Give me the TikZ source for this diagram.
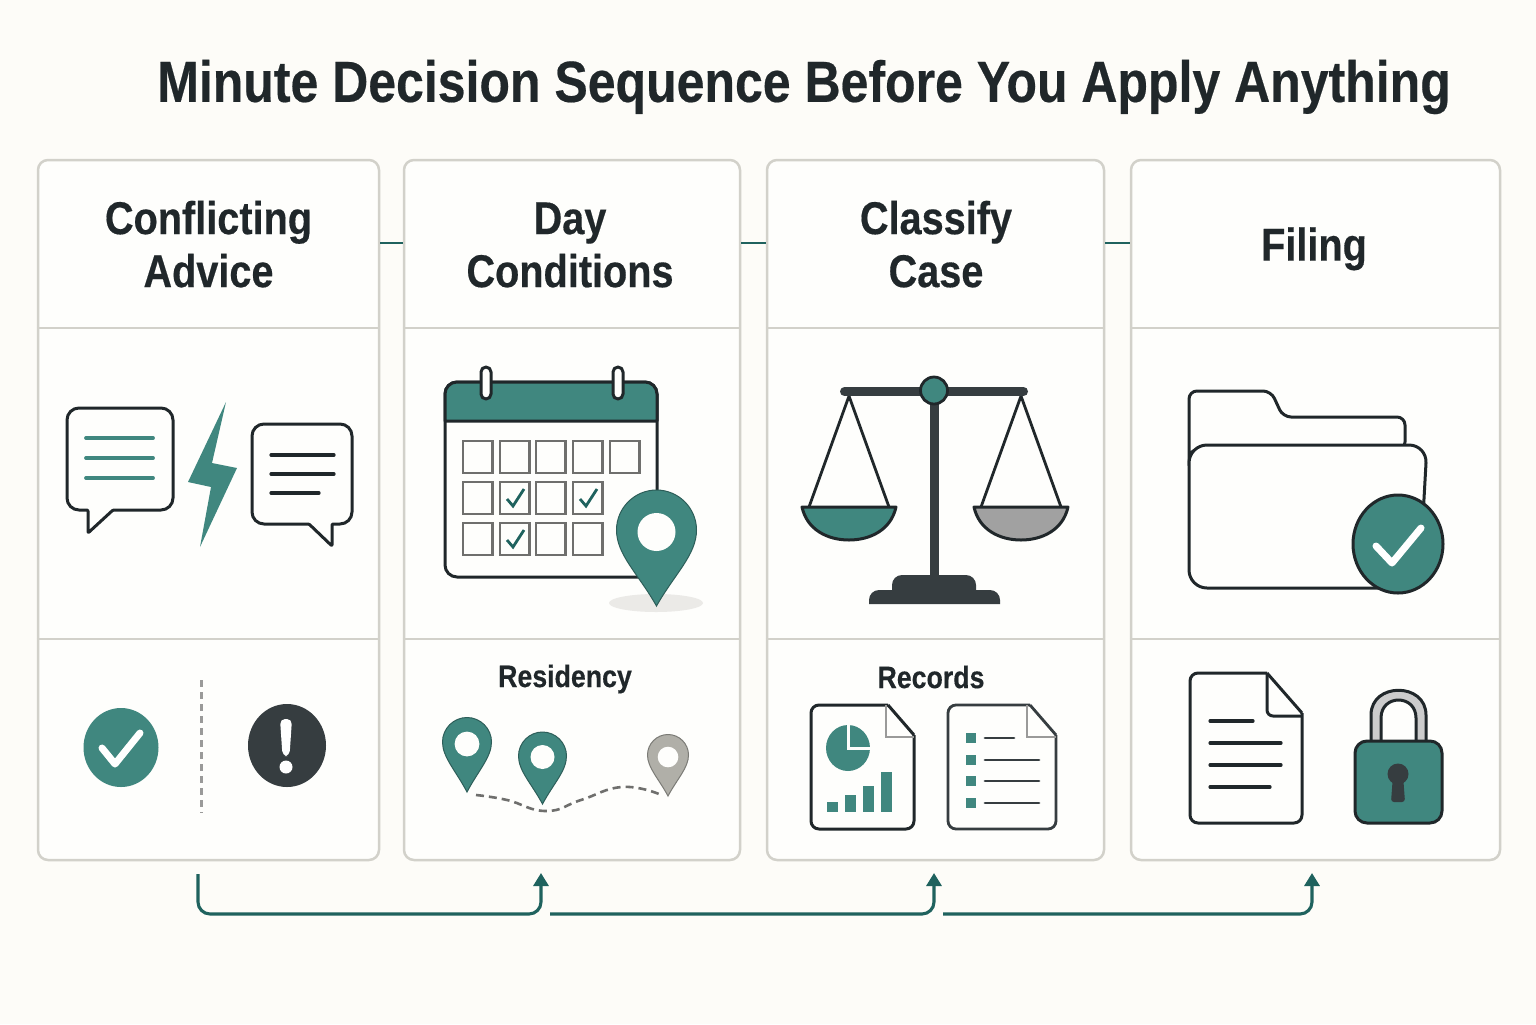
\documentclass[tikz,border=0pt]{standalone}
\usepackage{fontspec}
\setmainfont{Liberation Sans}[FakeStretch=0.862,BoldFeatures={FakeBold=0.35},Ligatures=NoCommon]
\usetikzlibrary{arrows.meta}
\definecolor{pagebg}{HTML}{FDFCF8}
\definecolor{panelbg}{HTML}{FEFEFC}
\definecolor{panelline}{HTML}{D2D1CA}
\definecolor{teal}{HTML}{40877F}
\definecolor{flowteal}{HTML}{1F625E}
\definecolor{ink}{HTML}{20272A}
\definecolor{slate}{HTML}{363D40}
\definecolor{cellgray}{HTML}{6F6F6D}
\definecolor{pingray}{HTML}{B0AFA8}
\tikzset{
  panel/.style={draw=panelline, fill=panelbg, line width=1.25pt, rounded corners=5pt, minimum height=350pt, inner sep=0pt},
  headcell/.style={minimum height=84pt, inner sep=0pt, align=center, font=\fontsize{23}{26.5}\selectfont\bfseries, text=ink},
  sublabel/.style={inner sep=0pt, font=\fontsize{15.5}{18}\selectfont\bfseries, text=ink},
  divider/.style={draw=panelline, line width=1.25pt},
  stub/.style={draw=flowteal, line width=1.4pt},
  flow/.style={draw=flowteal, line width=1.55pt, rounded corners=6pt},
  outline/.style={draw=ink, line width=1.5pt, line join=round},
  textbar/.style={draw=ink, line width=1.6pt, line cap=round},
  tealbar/.style={draw=teal, line width=1.9pt, line cap=round},
  daycell/.style={draw=cellgray, line width=1.1pt, fill=panelbg},
  daytick/.style={draw=flowteal, line width=1.4pt},
  whitetick/.style={draw=white, line width=3.5pt, line cap=round, line join=round}
}
\newcommand{\mappin}[7]{
  \path[fill=#5, draw=#5!70!black, line width=.5pt] (#1,#4)
    .. controls ({#1-0.45*#3},{#4-0.42*(#4-#2)}) and ({#1-#3},{#2+0.62*#3}) .. ({#1-#3},#2)
    .. controls ({#1-#3},{#2-0.55*#3}) and ({#1-0.55*#3},{#2-#3}) .. (#1,{#2-#3})
    .. controls ({#1+0.55*#3},{#2-#3}) and ({#1+#3},{#2-0.55*#3}) .. ({#1+#3},#2)
    .. controls ({#1+#3},{#2+0.62*#3}) and ({#1+0.45*#3},{#4-0.42*(#4-#2)}) .. (#1,#4) -- cycle;
  \fill[panelbg] (#1,#7) circle (#6);
}
\begin{document}
\begin{tikzpicture}[x=0.5pt, y=-0.5pt, >={Triangle[length=6.5pt,width=7.5pt]}]
  \fill[pagebg] (0,0) rectangle (1536,1024);
  \useasboundingbox (0,0) rectangle (1536,1024);
  \node[inner sep=0pt, font=\fontsize{29}{34}\selectfont\bfseries, text=ink] (title) at (804,87) {Minute Decision Sequence Before You Apply Anything};

  \node[panel, minimum width=170.5pt] (panelA) at (208.5,510) {};
  \node[panel, minimum width=168pt] (panelB) at (572,510) {};
  \node[panel, minimum width=168.5pt] (panelC) at (935.5,510) {};
  \node[panel, minimum width=184.5pt] (panelD) at (1315.5,510) {};
  \node[headcell, minimum width=170.5pt] (headA) at (208.5,250) {Conflicting\strut\\Advice\strut};
  \node[headcell, minimum width=168pt] (headB) at (570,250) {Day\strut\\Conditions\strut};
  \node[headcell, minimum width=168.5pt] (headC) at (936,250) {Classify\strut\\Case\strut};
  \node[headcell, minimum width=184.5pt] (headD) at (1314,250) {Filing\strut};
  \foreach \p in {A,B,C,D} {
    \draw[divider] (panel\p.west |- 0,328) -- (panel\p.east |- 0,328);
    \draw[divider] (panel\p.west |- 0,639) -- (panel\p.east |- 0,639);
  }
  \draw[stub] (panelA.east |- 0,243) -- (panelB.west |- 0,243);
  \draw[stub] (panelB.east |- 0,243) -- (panelC.west |- 0,243);
  \draw[stub] (panelC.east |- 0,243) -- (panelD.west |- 0,243);

  \draw[outline, fill=panelbg] (113,510) [rounded corners=6pt] -- (173,510) -- (173,408) -- (67,408) -- (67,510) [rounded corners=.5pt] -- (88,510) -- (88,533) -- cycle;
  \foreach \y in {438,458,478} \draw[tealbar] (86,\y) -- (153,\y);
  \fill[teal] (226,402) -- (212,463) -- (237,468) -- (200,547) -- (211,487) -- (188,482) -- cycle;
  \draw[outline, fill=panelbg] (309,524) [rounded corners=6pt] -- (252,524) -- (252,424) -- (352,424) -- (352,524) [rounded corners=.5pt] -- (332,524) -- (332,546) -- cycle;
  \draw[textbar] (271,455) -- (334,455);
  \draw[textbar] (271,474) -- (334,474);
  \draw[textbar] (271,493) -- (319,493);

  \draw[outline, fill=panelbg, rounded corners=6pt] (445,382) rectangle (657,577);
  \draw[outline, fill=teal] (445,421) [rounded corners=6pt] -- (445,382) -- (657,382) [sharp corners] -- (657,421) -- cycle;
  \draw[outline, fill=panelbg, rounded corners=2.5pt] (481,367) rectangle (491,399);
  \draw[outline, fill=panelbg, rounded corners=2.5pt] (613,367) rectangle (623,399);
  \foreach \x in {463,500,536,573,610} \draw[daycell] (\x,441) rectangle ++(29.5,32);
  \foreach \x in {463,500,536,573} \draw[daycell] (\x,482) rectangle ++(29.5,32);
  \foreach \x in {463,500,536,573} \draw[daycell] (\x,523) rectangle ++(29.5,32);
  \foreach \x/\y in {500/482,573/482,500/523} \draw[daytick] (\x+7,\y+17) -- (\x+13,\y+24) -- (\x+24,\y+7);
  \fill[black!7!pagebg] (656,603) ellipse [x radius=47, y radius=9];
  \mappin{656.5}{530}{40}{606}{teal}{19}{532}

  \draw[ink, line width=1.4pt] (809,507) -- (849,396) -- (889,507);
  \draw[ink, line width=1.4pt] (981,507) -- (1021,396) -- (1061,507);
  \draw[slate, line width=4.5pt, line cap=round] (844.5,391.5) -- (1023.5,391.5);
  \fill[slate] (929.5,396) rectangle (939,580);
  \fill[slate] (892,590) [rounded corners=5pt] -- (892,575) -- (976,575) [sharp corners] -- (976,590) -- cycle;
  \fill[slate] (869,604) [rounded corners=5pt] -- (869,590) -- (1000,590) [sharp corners] -- (1000,604) -- cycle;
  \draw[ink, line width=1.4pt, fill=teal] (934,390.5) circle (13.5);
  \draw[outline, fill=teal] (802,507) .. controls (807,530) and (828,540) .. (849,540) .. controls (870,540) and (891,530) .. (896,507) -- cycle;
  \draw[outline, fill=black!37] (974,507) .. controls (979,530) and (1000,540) .. (1021,540) .. controls (1042,540) and (1063,530) .. (1068,507) -- cycle;

  \draw[outline, fill=panelbg, rounded corners=4pt] (1189,470) -- (1189,391) -- (1271,391) -- (1283,417) -- (1405,417) -- (1405,450) -- (1189,450) -- cycle;
  \draw[outline, fill=panelbg, rounded corners=9pt] (1189,588) -- (1189,445) -- (1427,445) -- (1419,588) -- cycle;
  \draw[outline, fill=teal] (1398,544) ellipse [x radius=45, y radius=49];
  \draw[whitetick] (1376,546) -- (1392,563) -- (1421,528);

  \fill[teal] (121,747.5) ellipse [x radius=37.5, y radius=39.5];
  \draw[whitetick] (102,748) -- (115,764) -- (140,733);
  \draw[cellgray!70, line width=1.1pt, dash pattern=on 3.5pt off 2.5pt] (201.5,680) -- (201.5,813);
  \fill[slate] (287,745.5) ellipse [x radius=39, y radius=41.5];
  \fill[white, rounded corners=2.5pt] (280,719) -- (292,719) -- (289.5,756) -- (282.5,756) -- cycle;
  \fill[white] (286,767) circle (6.5);

  \node[sublabel] (residency) at (565,679) {Residency};
  \draw[cellgray, line width=1.3pt, dash pattern=on 4pt off 2.5pt] plot[smooth, tension=0.8] coordinates {(476,795) (507,800) (546,811) (581,800) (622,787) (659,794)};
  \mappin{467}{742}{24.5}{792}{teal}{12.4}{744}
  \mappin{542.5}{756}{24}{804}{teal}{12}{757}
  \mappin{668}{755}{20.5}{796}{pingray}{10.3}{757}

  \node[sublabel] (records) at (931,677) {Records};
  \draw[outline, fill=panelbg, rounded corners=4pt] (888,705) -- (811,705) -- (811,829) -- (914,829) -- (914,735);
  \draw[outline] (888,705) -- (914,735);
  \draw[cellgray!70, line width=1.2pt] (886,705) -- (886,737) -- (914,737);
  \fill[teal] (848,748) ellipse [x radius=22, y radius=23];
  \draw[panelbg, line width=1.5pt] (848,723) -- (848,748) -- (872,748);
  \foreach \x/\y in {827/802,845/795,863/786,881/772} \fill[teal] (\x,\y) rectangle ++(11,812-\y);
  \draw[slate, line width=1.4pt, fill=panelbg, rounded corners=4pt] (1030,705) -- (948,705) -- (948,829) -- (1056,829) -- (1056,735);
  \draw[slate, line width=1.4pt] (1030,705) -- (1056,735);
  \draw[cellgray!70, line width=1.2pt] (1027,705) -- (1027,737) -- (1056,737);
  \foreach \y in {733,755,776,798} \fill[teal] (966,\y) rectangle ++(10,10);
  \draw[slate, line width=1.4pt, line cap=round] (985,738) -- (1014,738);
  \foreach \y in {760,781,803} \draw[slate, line width=1.4pt, line cap=round] (985,\y) -- (1039,\y);

  \draw[outline, fill=panelbg, rounded corners=4pt] (1267,673) -- (1190,673) -- (1190,823) -- (1302,823) -- (1302,713);
  \draw[outline] (1267,673) -- (1302,713);
  \draw[outline, rounded corners=3pt] (1267,673) -- (1267,716) -- (1302,716);
  \draw[textbar] (1210,721) -- (1253,721);
  \draw[textbar] (1210,743) -- (1281,743);
  \draw[textbar] (1210,765) -- (1281,765);
  \draw[textbar] (1210,787) -- (1270,787);
  \draw[outline, fill=black!20] (1371,742) -- (1371,715) .. controls (1371,682) and (1426,682) .. (1426,715) -- (1426,742) -- (1416,742) -- (1416,718) .. controls (1416,694) and (1381,694) .. (1381,718) -- (1381,742) -- cycle;
  \draw[outline, fill=teal, rounded corners=6pt] (1355,741) rectangle (1442,823);
  \fill[slate] (1398,774) circle (10.5);
  \fill[slate, rounded corners=1.5pt] (1393,775) -- (1403,775) -- (1405,802) -- (1391,802) -- cycle;

  \coordinate (startA) at (198,874);
  \coordinate (endA) at (541,873);
  \coordinate (startB) at (550,914);
  \coordinate (endB) at (934,873);
  \coordinate (startC) at (943,914);
  \coordinate (endC) at (1312,873);
  \draw[flow, ->] (startA) |- (endA |- 0,914) -- (endA);
  \draw[flow, ->] (startB) -- (endB |- 0,914) -- (endB);
  \draw[flow, ->] (startC) -- (endC |- 0,914) -- (endC);
\end{tikzpicture}
\end{document}
